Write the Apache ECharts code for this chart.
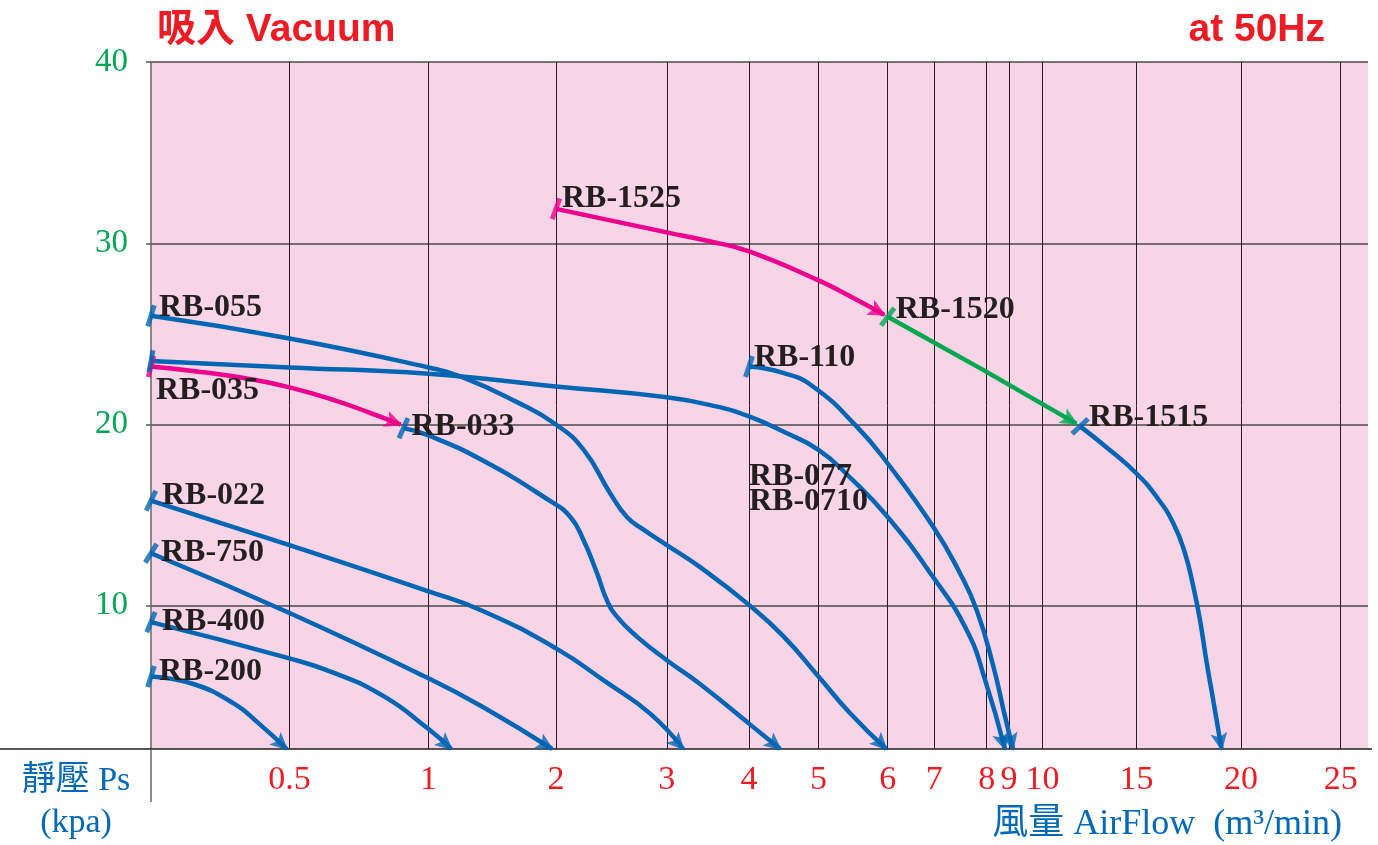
<!DOCTYPE html>
<html>
<head>
<meta charset="utf-8">
<script src="https://cdn.jsdelivr.net/npm/echarts@6/dist/echarts.min.js"></script>
<style>
html,body{margin:0;padding:0;background:#ffffff;}
#chart{width:1378px;height:845px;}
</style>
</head>
<body>
<div id="chart"></div>
<script>
// ===================== DATA =====================
// flow-axis tick values (m3/min) and their printed labels
const xTickValues = [0.5, 1, 2, 3, 4, 5, 6, 7, 8, 9, 10, 15, 20, 25];
const xTickLabels = ['0.5', '1', '2', '3', '4', '5', '6', '7', '8', '9', '10', '15', '20', '25'];
// static pressure ticks (kPa)
const yTickValues = [10, 20, 30, 40];

// curves: [flow m3/min, static pressure kPa]
const rb200  = [[0, 6.1], [0.15, 5.7], [0.3, 4.6], [0.39, 3.5], [0.49, 2.1]];
const rb400  = [[0, 9.1], [0.5, 7.1], [0.66, 6.3], [0.84, 5.0], [1.0, 3.2], [1.18, 2.1]];
const rb750  = [[0, 12.9], [0.5, 9.6], [1, 6.0], [1.43, 4.4], [1.97, 2.1]];
const rb022  = [[0, 15.8], [0.5, 13.35], [1, 10.8], [1.43, 9.7], [2, 7.65], [2.45, 5.8], [2.85, 4.05], [3.2, 2.1]];
const rb035  = [[0, 23.2], [0.18, 22.9], [0.36, 22.5], [0.5, 22.05], [0.66, 21.35], [0.78, 20.7], [0.9, 20.0]];
const rb033  = [[0.91, 19.8], [1, 19.4], [1.43, 18.0], [1.95, 15.8], [2.13, 14.9], [2.25, 13.6], [2.37, 11.8], [2.46, 10.3], [2.55, 9.4], [2.73, 8.3], [3, 7.0], [3.4, 5.7], [4, 3.5], [4.45, 2.1]];
const rb055  = [[0, 26.0], [0.5, 24.75], [1, 23.15], [1.27, 22.6], [1.69, 21.25], [2, 20.0], [2.25, 18.6], [2.49, 16.2], [2.64, 14.9], [2.79, 14.2], [3, 13.35], [3.4, 12.15], [4, 10.05], [4.5, 8.3], [5, 6.1], [5.45, 4.1], [5.98, 2.1]];
const rb077  = [[0, 23.5], [0.5, 23.15], [1, 22.8], [2, 22.1], [3, 21.5], [3.6, 21.0], [4, 20.45], [4.5, 19.6], [5, 18.6], [5.45, 17.1], [6, 14.9], [6.97, 11.6], [7.62, 8.65], [7.97, 5.9], [8.82, 2.1]];
const rb110  = [[4, 23.2], [4.49, 22.85], [4.92, 22.1], [5.55, 19.9], [6, 17.85], [6.98, 14.35], [7.49, 11.8], [7.81, 9.75], [8.3, 6.65], [8.82, 3.9], [9.12, 2.1]];
const rb1525 = [[2, 31.9], [3, 30.6], [3.53, 30.1], [4, 29.55], [5, 27.95], [5.47, 27.05], [5.95, 26.05]];
const rb1520 = [[6, 25.95], [7.94, 23.0], [11.8, 20.05]];
const rb1515 = [[12, 19.9], [13.4, 18.75], [15, 17.3], [15.97, 16.0], [16.76, 14.55], [17.32, 12.9], [17.72, 11.05], [18.04, 9.2], [18.36, 6.85], [18.67, 4.8], [19.07, 2.1]];

const curveNames = ['RB-200', 'RB-400', 'RB-750', 'RB-022', 'RB-035', 'RB-033', 'RB-055', 'RB-077', 'RB-110', 'RB-1525', 'RB-1520', 'RB-1515'];
const curveData  = [rb200, rb400, rb750, rb022, rb035, rb033, rb055, rb077, rb110, rb1525, rb1520, rb1515];
const noteLines  = ['RB-077', 'RB-0710'];

// ============ NONLINEAR FLOW SCALE OF THE PRINTED SHEET ============
// flow value -> distance (px) from the left edge of the plot area
const FLOW_BREAKS        = [0, 0.5, 1, 2, 3, 4, 5, 6, 7, 8, 9, 10, 15, 20, 25];
const FLOW_BREAK_OFFSETS = [0, 138.5, 277.5, 405, 515.8, 598, 667.5, 736.7, 783.3, 835.7, 858, 891.5, 985.5, 1090, 1189.7];
const PLOT_WIDTH = 1217;
function toPos(f) {
  const B = FLOW_BREAKS, O = FLOW_BREAK_OFFSETS;
  let i = 0;
  while (i < B.length - 2 && f > B[i + 1]) i++;
  return O[i] + (f - B[i]) * (O[i + 1] - O[i]) / (B[i + 1] - B[i]);
}

// ===================== STYLE =====================
const BLUE = '#0066b3', PINK = '#ec008c', GREEN = '#00a651';
const curveColors = {
  'RB-200': BLUE, 'RB-400': BLUE, 'RB-750': BLUE, 'RB-022': BLUE, 'RB-035': PINK, 'RB-033': BLUE,
  'RB-055': BLUE, 'RB-077': BLUE, 'RB-110': BLUE, 'RB-1525': PINK, 'RB-1520': GREEN, 'RB-1515': BLUE
};
// label offsets (px) from the start point of each curve
const labelOffsets = {
  'RB-200': [8, -5], 'RB-400': [11, 0], 'RB-750': [10, 0], 'RB-022': [11, -5], 'RB-035': [5, 24],
  'RB-033': [8, -1], 'RB-055': [8, -8], 'RB-110': [5, -9], 'RB-1525': [6, -10], 'RB-1520': [8, -7],
  'RB-1515': [9, -9]
};
const NOTE_ANCHOR = [4.0, 16.42]; // data position of the "RB-077 / RB-0710" note (left, middle)
const GRID = { left: 151, right: 10, top: 62, bottom: 96 };
const SERIF = '"Liberation Serif", "Times New Roman", serif';
const SANS = '"Liberation Sans", Arial, "Noto Sans CJK TC", sans-serif';
// arrow head: tip at (0,0), body below; a tiny speck above sets the symbol centre 2px behind the tip
const ARROW_PATH = 'path://M0,-14 L0.02,-14 L0,-13.98 Z M0,0 L8.5,18 L0,14 L-8.5,18 Z';
const ARROW_SIZE = [17, 32];

const xTickPos = xTickValues.map(toPos);

const chart = echarts.init(document.getElementById('chart'), null, { renderer: 'canvas' });

const lineSeries = curveNames.map((name, k) => ({
  type: 'line',
  name: name,
  data: curveData[k].map(([f, p]) => [toPos(f), p]),
  smooth: name === 'RB-1520' ? false : 0.5,
  symbol: 'none',
  clip: false,
  silent: true,
  z: 3,
  lineStyle: { width: 4.5, color: curveColors[name], cap: 'butt' },
  itemStyle: { color: curveColors[name] }
}));

const H = 845, W = 1378;
const axisY = H - GRID.bottom;
const baseGraphic = [
  { type: 'line', silent: true, z: 1, shape: { x1: 0, y1: axisY, x2: GRID.left, y2: axisY }, style: { stroke: '#231f20', lineWidth: 1.5 } },
  { type: 'line', silent: true, z: 1, shape: { x1: W - GRID.right, y1: axisY, x2: W - GRID.right + 4, y2: axisY }, style: { stroke: '#231f20', lineWidth: 1.5 } },
  { type: 'line', silent: true, z: 1, shape: { x1: GRID.left, y1: axisY, x2: GRID.left, y2: axisY + 53 }, style: { stroke: '#666666', lineWidth: 1.5 } },
  { type: 'text', silent: true, x: 76, y: 802, style: { text: '靜壓 Ps\n(kpa)', fill: '#0068b7', font: '34px ' + SERIF + ', "Noto Sans CJK TC"', lineHeight: 42, textAlign: 'center', textVerticalAlign: 'middle', align: 'center', verticalAlign: 'middle' } },
  { type: 'text', silent: true, x: 1342, y: 825, style: { text: '風量 AirFlow  (m³/min)', fill: '#0068b7', font: '36px ' + SERIF + ', "Noto Sans CJK TC"', textAlign: 'right', textVerticalAlign: 'middle', align: 'right', verticalAlign: 'middle' } }
];

const option = {
  animation: false,
  backgroundColor: '#ffffff',
  title: [
    { text: '吸入 Vacuum', left: 157, top: 11, padding: 0, textStyle: { color: '#ed1c24', fontSize: 39, fontWeight: 'bold', fontFamily: SANS } },
    { text: 'at 50Hz', right: 53, top: 11, padding: 0, textStyle: { color: '#ed1c24', fontSize: 39, fontWeight: 'bold', fontFamily: SANS } }
  ],
  grid: { left: GRID.left, right: GRID.right, top: GRID.top, bottom: GRID.bottom, show: true, backgroundColor: '#f8d5e6', borderWidth: 0, containLabel: false },
  xAxis: {
    type: 'value', min: 0, max: PLOT_WIDTH,
    axisLine: { show: true, onZero: false, lineStyle: { color: '#231f20', width: 1.5 } },
    axisTick: { show: false, customValues: xTickPos },
    axisLabel: {
      customValues: xTickPos, color: '#ed1c24', fontSize: 34, fontFamily: SERIF, margin: 14,
      formatter: function (v) {
        const i = xTickPos.findIndex(p => Math.abs(p - v) < 0.01);
        return i >= 0 ? xTickLabels[i] : '';
      }
    },
    splitLine: { show: true, lineStyle: { color: '#231f20', width: 1 } }
  },
  yAxis: {
    type: 'value', min: 2.1, max: 40,
    axisLine: { show: true, onZero: false, lineStyle: { color: '#666666', width: 1.5 } },
    axisTick: { show: true, length: 5, customValues: yTickValues, lineStyle: { color: '#555555', width: 1.5 } },
    axisLabel: { customValues: yTickValues, color: '#00a651', fontSize: 33, fontFamily: SERIF, margin: 23 },
    splitLine: { show: true, lineStyle: { color: '#4a4a4a', width: 1.5 } }
  },
  series: lineSeries,
  graphic: baseGraphic
};
chart.setOption(option);

// ---- decorations: start ticks, arrow heads, curve labels (placed through the axes) ----
function pix(pt) { return chart.convertToPixel({ gridIndex: 0 }, [toPos(pt[0]), pt[1]]); }
const decor = [];
const labelTexts = [];
curveNames.forEach((name, k) => {
  const d = curveData[k];
  const color = curveColors[name];
  const a = pix(d[0]), b = pix(d[1]);
  const ts = Math.atan2(b[1] - a[1], b[0] - a[0]) * 180 / Math.PI;
  decor.push({ value: [toPos(d[0][0]), d[0][1]], symbol: 'rect', symbolSize: [5, 22], symbolRotate: -ts - 8, itemStyle: { color: color } });
  const n = d.length;
  const e = pix(d[n - 1]), q = pix(d[n - 2]);
  const te = Math.atan2(e[1] - q[1], e[0] - q[0]) * 180 / Math.PI;
  decor.push({ value: [toPos(d[n - 1][0]), d[n - 1][1]], symbol: ARROW_PATH, symbolSize: ARROW_SIZE, symbolKeepAspect: false, symbolRotate: -te - 90, itemStyle: { color: color } });
  const off = labelOffsets[name];
  if (off) {
    labelTexts.push({ type: 'text', silent: true, z: 10, x: a[0] + off[0], y: a[1] + off[1],
      style: { text: name, fill: '#231f20', font: 'bold 32px ' + SERIF, textAlign: 'left', textVerticalAlign: 'middle', align: 'left', verticalAlign: 'middle' } });
  }
});
const na = pix(NOTE_ANCHOR);
labelTexts.push({ type: 'text', silent: true, z: 10, x: na[0], y: na[1],
  style: { text: noteLines.join('\n'), fill: '#231f20', font: 'bold 32px ' + SERIF, lineHeight: 25, textAlign: 'left', textVerticalAlign: 'middle', align: 'left', verticalAlign: 'middle' } });

chart.setOption({
  series: lineSeries.concat([{
    type: 'scatter', name: 'marks', data: decor, clip: false, silent: true, z: 4, animation: false
  }]),
  graphic: baseGraphic.concat(labelTexts)
});
</script>
</body>
</html>
